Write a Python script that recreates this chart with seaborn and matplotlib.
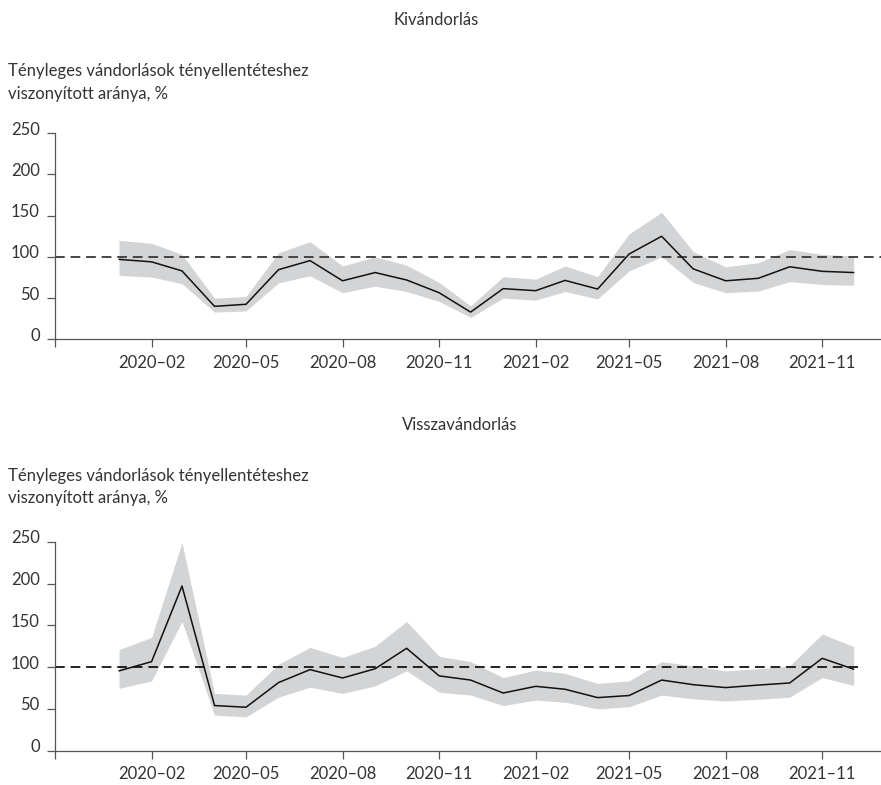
import matplotlib
matplotlib.use("Agg")
import matplotlib.pyplot as plt
import matplotlib.transforms as mtransforms
import numpy as np
import pandas as pd
import seaborn as sns

# ---------------- data ----------------
months = ["2020-01", "2020-02", "2020-03", "2020-04", "2020-05", "2020-06",
          "2020-07", "2020-08", "2020-09", "2020-10", "2020-11", "2020-12",
          "2021-01", "2021-02", "2021-03", "2021-04", "2021-05", "2021-06",
          "2021-07", "2021-08", "2021-09", "2021-10", "2021-11", "2021-12"]

emig_mid = [97, 94, 83, 40, 42.5, 84.5, 95.5, 71, 81, 72, 56.5, 33,
            61.5, 59, 71.5, 61, 103.5, 125, 85.5, 71, 74, 88, 82.5, 81]
emig_hi = [120, 116.5, 103, 50, 52, 105, 118.5, 89, 100, 90, 69, 40.5,
           76, 73, 89, 76, 128, 154, 106.5, 88, 93, 109, 103, 101]
emig_lo = [77.5, 75.5, 67.5, 33, 34.5, 68.5, 77, 56.5, 64.5, 58, 46, 26.5,
           50, 47.5, 58, 49, 83, 100, 69, 56.5, 58.5, 70, 66.5, 65.5]

ret_mid = [95.5, 106.5, 197, 54, 52, 81.5, 97, 87, 98, 122.5, 89.5, 84.5,
           69, 77, 73.5, 63.5, 66, 84.5, 79, 75.5, 78.5, 81, 110.5, 97.5]
ret_hi = [121, 135.5, 249, 68.5, 66.5, 103.5, 123.5, 111.5, 125, 154.5, 113, 106.5,
          87.5, 96.5, 92.5, 80.5, 83.5, 106.5, 101.5, 95.5, 98, 101.5, 139.5, 124.5]
ret_lo = [74.5, 83.5, 154.5, 42.5, 40.5, 64, 76, 68.5, 77.5, 95.5, 70, 66.5,
          54, 60.5, 58, 50, 52.5, 66.5, 62, 59.5, 61.5, 64, 87.5, 78]

tick_months = ["2019-11", "2020-02", "2020-05", "2020-08", "2020-11",
               "2021-02", "2021-05", "2021-08", "2021-11"]
tick_labels = ["", "2020–02", "2020–05", "2020–08", "2020–11",
               "2021–02", "2021–05", "2021–08", "2021–11"]
y_ticks = [0, 50, 100, 150, 200, 250]

titles = ["Kivándorlás", "Visszavándorlás"]
ylab = "Tényleges vándorlások tényellentéteshez\nviszonyított aránya, %"
reference = 100

# ---------------- style ----------------
sns.set_style("ticks")
plt.rcParams["font.family"] = ["Lato", "DejaVu Sans"]

TXT = "#333333"
SPINE = "#555555"
BAND = "#d3d4d6"
FS = 12

dates = pd.to_datetime(months)
df_e = pd.DataFrame({"date": dates, "mid": emig_mid, "lo": emig_lo, "hi": emig_hi})
df_r = pd.DataFrame({"date": dates, "mid": ret_mid, "lo": ret_lo, "hi": ret_hi})

W, H = 881, 785
fig = plt.figure(figsize=(W / 100, H / 100), dpi=100)

def frac_y(px):
    return 1 - px / H

panels = [
    dict(df=df_e, y0=339.3, y1=133.3, title_x=436, title_y=20, lab_y=63, dash_col="#444444", dash_xmax=1.0),
    dict(df=df_r, y0=750.7, y1=541.7, title_x=460, title_y=425, lab_y=468, dash_col="#222222", dash_xmax=0.978),
]

for i, p in enumerate(panels):
    ax = fig.add_axes([55 / W, frac_y(p["y0"]), (W - 55) / W, (p["y0"] - p["y1"]) / H])
    d = p["df"]
    ax.fill_between(d["date"], d["lo"], d["hi"], color=BAND, linewidth=0, zorder=1)
    ax.axhline(reference, xmax=p["dash_xmax"], color=p["dash_col"], lw=1.4,
               dashes=(5.0, 3.0), zorder=2)
    sns.lineplot(data=d, x="date", y="mid", color="#111111", lw=1.1, ax=ax, zorder=3)

    ax.set_xlim(pd.Timestamp("2019-11-01"), pd.Timestamp("2021-12-27"))
    ax.set_ylim(0, 250)
    ax.set_xticks(pd.to_datetime(tick_months))
    ax.set_xticklabels(tick_labels)
    ax.set_yticks(y_ticks)
    ax.set_yticklabels([str(v) for v in y_ticks])
    ax.set_xlabel("")
    ax.set_ylabel("")
    sns.despine(ax=ax)
    for s in ["left", "bottom"]:
        ax.spines[s].set_color(SPINE)
        ax.spines[s].set_linewidth(0.9)
    ax.tick_params(axis="both", colors=SPINE, length=6, width=0.9,
                   labelcolor=TXT, labelsize=FS)
    ax.tick_params(axis="x", pad=5)
    ax.tick_params(axis="y", pad=5)
    off = mtransforms.ScaledTranslation(0, 5 / 100, fig.dpi_scale_trans)
    for lbl in ax.get_yticklabels():
        lbl.set_transform(lbl.get_transform() + off)

    fig.text(p["title_x"] / W, frac_y(p["title_y"]), titles[i], ha="center", va="center",
             color=TXT, fontsize=FS)
    fig.text(8 / W, frac_y(p["lab_y"]), ylab, ha="left", va="top", color=TXT,
             fontsize=FS, linespacing=1.5)

fig.savefig("out.png", dpi=100, facecolor="white")
